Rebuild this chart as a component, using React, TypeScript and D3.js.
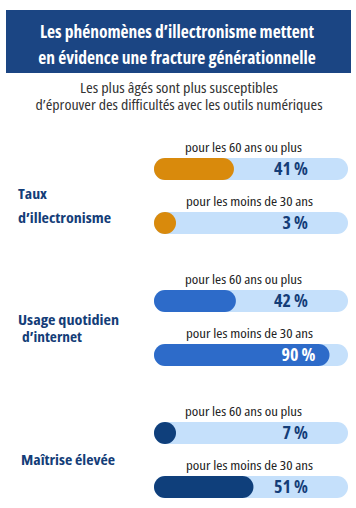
import React from "react";
import * as d3 from "d3";

const titleLines = ["Les phénomènes d\u2019illectronisme mettent", "en évidence une fracture générationnelle"];
const subtitleLines = ["Les plus âgés sont plus susceptibles", "d\u2019éprouver des difficultés avec les outils numériques"];
const categories = [["Taux", "d\u2019illectronisme"], ["Usage quotidien", "d\u2019internet"], ["Maîtrise élevée"]];
const groupLabels = ["pour les 60 ans ou plus", "pour les moins de 30 ans"];
const valuesOlder = [41, 42, 7];
const valuesYounger = [3, 90, 51];
const colors = ["#d98a0c", "#2d6bc9", "#0f3f7b"];

const W = 356, H = 508;
const FONT = "'Open Sans', sans-serif";
// layout (positions/widths measured from reference)
const subtitleWidths = [198, 287];
const groupLabelWidths = [117, 127];
const catLayout = [
  { off: 41, sp: 24, xs: [18, 18], ws: [29, 93] },
  { off: 35, sp: 17, xs: [18, 22], ws: [101, 60] },
  { off: 43, sp: 0, xs: [21], ws: [94] },
];

export default function App() {
  const trackX0 = 154, trackX1 = 348;
  const x = d3.scaleLinear().domain([0, 100]).range([0, 195]);
  const barH = 22;
  const group = d3.scaleBand<number>().domain([0, 1, 2]).range([158, 158 + 132 * 3]);

  return (
    <svg width={W} height={H} style={{ position: "absolute", left: 0, top: 0 }}>
      <rect x={6} y={10} width={345} height={63} fill="#1b4583" />
      {titleLines.map((t, i) => (
        <text key={i} x={177} y={38 + i * 25.5} textAnchor="middle" fill="#fff" fontFamily={FONT}
          fontWeight={700} fontSize={17.5} style={{ fontStretch: "condensed" }}>{t}</text>
      ))}
      {subtitleLines.map((t, i) => (
        <text key={i} x={179} y={93 + i * 17} textAnchor="middle" fill="#333" fontFamily={FONT}
          fontSize={13.5} style={{ fontStretch: "condensed" }}
          textLength={subtitleWidths[i]} lengthAdjust="spacingAndGlyphs">{t}</text>
      ))}
      {categories.map((lines, gi) => {
        const y0 = group(gi)!;
        const vals = [valuesOlder[gi], valuesYounger[gi]];
        const lay = catLayout[gi];
        return (
          <g key={gi}>
            {lines.map((l, li) => (
              <text key={li} x={lay.xs[li]} y={y0 + lay.off + li * lay.sp}
                fill="#143d78" fontFamily={FONT} fontWeight={700} fontSize={15}
                style={{ fontStretch: "condensed" }}
                textLength={lay.ws[li]} lengthAdjust="spacingAndGlyphs">{l}</text>
            ))}
            {vals.map((v, bi) => {
              const by = y0 + bi * 54;
              const fw = Math.max(x(v), barH);
              const fillEnd = trackX0 + fw;
              const inside = fillEnd - 14 > 308;
              const lx = inside ? fillEnd - 14 : 308;
              const lw = groupLabelWidths[bi];
              return (
                <g key={bi}>
                  <text x={(bi === 0 ? 243.5 : 249.5) - lw / 2} y={by - 6} fill="#222" fontFamily={FONT} fontSize={13}
                    style={{ fontStretch: "condensed" }}
                    textLength={lw} lengthAdjust="spacingAndGlyphs">{groupLabels[bi]}</text>
                  <rect x={trackX0} y={by} width={trackX1 - trackX0} height={barH} rx={barH / 2} fill="#c5e0fb" />
                  <rect x={trackX0} y={by} width={fw} height={barH} rx={barH / 2} fill={colors[gi]} />
                  <text x={lx} y={by + 17} textAnchor="end" fill={inside ? "#fff" : "#143d78"} fontFamily={FONT}
                    fontWeight={700} fontSize={18} style={{ fontStretch: "condensed" }}>{`${v} %`}</text>
                </g>
              );
            })}
          </g>
        );
      })}
    </svg>
  );
}
